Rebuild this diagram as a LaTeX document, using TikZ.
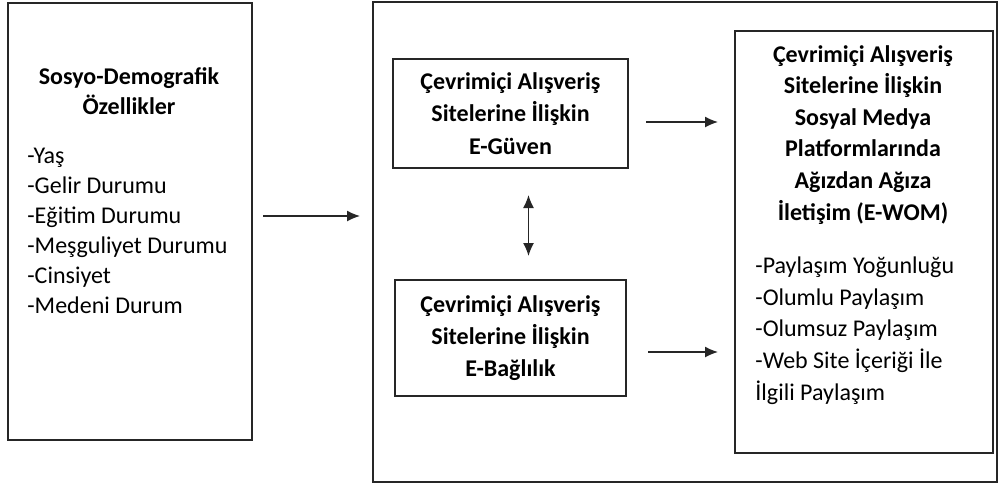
\documentclass[tikz,border=0pt]{standalone}
\usepackage{fontspec}
\setmainfont{Carlito}
\usetikzlibrary{arrows.meta}
\newcommand*\boxline{0.85pt}
\newcommand*\listskip{15pt}
\tikzset{
    frame/.style     = {draw=black!85, line width=\boxline, inner sep=0pt, outer sep=0pt},
    conceptbox/.style= {frame, align=center,
                        font=\bfseries\fontsize{12}{16.2}\selectfont},
    titletext/.style = {align=center, inner sep=0pt,
                        font=\bfseries\fontsize{12}{15.8}\selectfont},
    listtext/.style  = {align=left, inner sep=0pt,
                        font=\fontsize{12}{\listskip}\selectfont},
    link/.style      = {draw=black!85, line width=0.7pt,
                        -{Latex[length=6.5pt,width=5.5pt]}},
    bilink/.style    = {link, {Latex[length=6.5pt,width=5.5pt]}-{Latex[length=6.5pt,width=5.5pt]}},
}

\begin{document}
\begin{tikzpicture}[x=0.5pt,y=-0.5pt]
    \useasboundingbox (0,0) rectangle (1000,484);

    % left box: socio-demographic variables
    \node (demo) [frame, minimum width=122pt, minimum height=218.5pt] at (130,221.5) {};
    % (base anchor of these texts sits on their last line)
    \node (demotitle) [titletext, anchor=base,
        font=\bfseries\fontsize{12}{15}\selectfont] at (129,114)
        {Sosyo-Demografik\\Özellikler};
    \node (demolist) [listtext, anchor=base west] at (27,313)
        {-Yaş\\-Gelir Durumu\\-Eğitim Durumu\\-Meşguliyet Durumu\\-Cinsiyet\\-Medeni Durum};

    % big box holding the model
    \node (model) [frame, minimum width=312pt, minimum height=240pt] at (685,242) {};

    % the two inner boxes
    \node (guven) [conceptbox, minimum width=117.5pt, minimum height=54.5pt] at (510.5,113.5)
        {Çevrimiçi Alışveriş\\Sitelerine İlişkin\\E-Güven};
    \node (baglilik) [conceptbox, minimum width=115.5pt, minimum height=58pt] at (510.5,338)
        {Çevrimiçi Alışveriş\\Sitelerine İlişkin\\E-Bağlılık};

    % right box: e-wom
    \node (ewom) [frame, minimum width=129pt, minimum height=211pt] at (864,242) {};
    \node (ewomtitle) [titletext, anchor=base] at (863,220)
        {Çevrimiçi Alışveriş\\Sitelerine İlişkin\\Sosyal Medya\\Platformlarında\\Ağızdan Ağıza\\İletişim (E-WOM)};
    \node (ewomlist) [listtext, anchor=base west, font=\fontsize{12}{15.8}\selectfont] at (755,400)
        {-Paylaşım Yoğunluğu\\-Olumlu Paylaşım\\-Olumsuz Paylaşım\\-Web Site İçeriği İle\\İlgili Paylaşım};

    % arrows
    \coordinate (demoout) at ([xshift=5.5pt,yshift=2.75pt]demo.east);
    \coordinate (guvenout) at ([xshift=9pt,yshift=-4.25pt]guven.east);
    \coordinate (bagout) at ([xshift=11pt,yshift=-7pt]baglilik.east);
    \draw[link] (demoout) -- ([xshift=-6.5pt]demoout -| model.west);
    \draw[link] (guvenout) -- ([xshift=-8.5pt]guvenout -| ewom.west);
    \draw[link] (bagout) -- ([xshift=-8.5pt]bagout -| ewom.west);
    \draw[bilink] ([xshift=9pt,yshift=-13.5pt]guven.south) -- ([xshift=9pt,yshift=12pt]guven.south |- baglilik.north);
\end{tikzpicture}
\end{document}
